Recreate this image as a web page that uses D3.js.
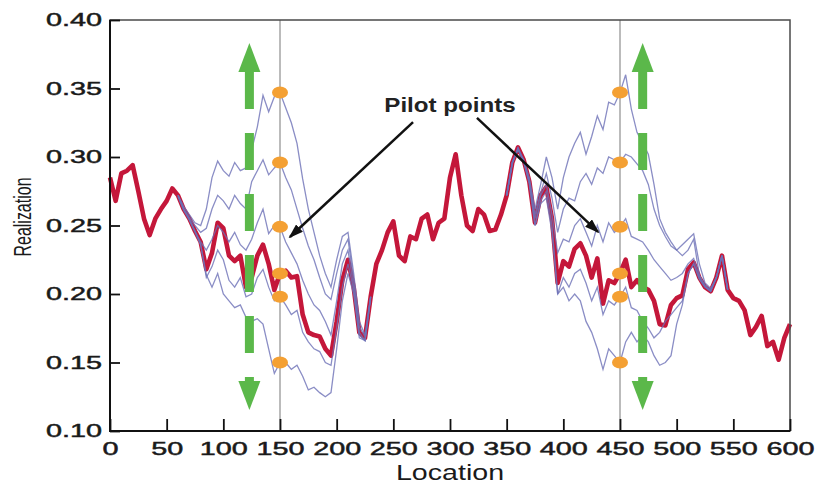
<!DOCTYPE html>
<html>
<head>
<meta charset="utf-8">
<script src="https://cdn.jsdelivr.net/npm/d3@7"></script>
<style>
  body { margin: 0; background: #fff; }
  svg { display: block; font-family: "Liberation Sans", Arial, sans-serif; }
</style>
</head>
<body>
<svg width="817" height="483"></svg>
<script>
// grid step of the realizations (location units)
var step = 5;

// base realization (thick red), location 0..600
var red = [
  .285,.268,.288,.290,.294,.275,.255,.243,.255,.262,
  .268,.277,.272,.262,.255,.246,.238,.218,.230,.252,
  .248,.228,.224,.228,.205,.212,.228,.236,.222,.203,
  .215,.217,.212,.213,.185,.172,.170,.169,.160,.155,
  .180,.210,.225,.205,.172,.168,.198,.222,.232,.245,
  .253,.228,.224,.242,.240,.255,.258,.240,.252,.255,
  .285,.302,.272,.250,.246,.262,.258,.246,.247,.258,
  .272,.296,.307,.298,.282,.252,.272,.278,.255,.208,
  .224,.220,.233,.237,.228,.212,.226,.193,.210,.208,
  .215,.225,.205,.210,.205,.203,.195,.178,.177,.192,
  .197,.199,.218,.223,.212,.205,.202,.212,.228,.203,
  .197,.195,.188,.170,.176,.184,.162,.165,.152,.168,
  .178
];

// perturbed realizations around the first pilot point, location 60..230
var leftStart = 60;
var leftLines = [
  [.272,.264,.258,.252,.250,.262,.285,.297,.290,.286, .296,.290,.292,.305,.322,.345,.333,.344,.347,.336,
   .325,.310,.284,.262,.245,.228,.215,.205,.225,.242, .245,.215,.180,.170,.198],
  [.272,.262,.256,.250,.245,.248,.262,.272,.268,.262, .272,.266,.262,.282,.290,.298,.287,.292,.296,.285,
   .276,.262,.248,.235,.225,.212,.200,.196,.215,.232, .240,.210,.176,.169,.198],
  [.271,.261,.254,.246,.238,.232,.240,.250,.245,.238, .245,.236,.232,.240,.252,.262,.244,.250,.249,.238,
   .230,.222,.210,.200,.192,.188,.180,.170,.195,.222, .232,.205,.172,.166,.198],
  [.272,.262,.255,.246,.236,.212,.220,.232,.225,.210, .205,.212,.198,.200,.212,.218,.205,.195,.198,.192,
   .185,.188,.172,.165,.160,.158,.150,.148,.175,.205, .222,.203,.170,.166,.197],
  [.272,.262,.254,.245,.236,.214,.205,.215,.200,.195, .190,.192,.183,.180,.182,.178,.160,.142,.150,.150,
   .145,.148,.140,.130,.132,.128,.125,.128,.160,.195, .215,.200,.168,.166,.198]
];

// perturbed realizations around the second pilot point, location 350..545
var rightStart = 350;
var rightLines = [
  [.272,.296,.305,.298,.285,.262,.280,.300,.285,.262, .285,.300,.310,.318,.302,.315,.330,.320,.340,.338,
   .347,.360,.335,.318,.310,.302,.280,.255,.245,.238, .232,.228,.232,.240,.214,.206,.203,.212,.228,.203],
  [.272,.296,.306,.296,.282,.258,.274,.288,.270,.245, .262,.270,.268,.282,.288,.280,.292,.288,.300,.298,
   .296,.302,.300,.295,.290,.280,.262,.250,.242,.235, .232,.236,.240,.244,.222,.208,.204,.212,.228,.203],
  [.272,.295,.306,.297,.282,.255,.272,.280,.258,.230, .240,.238,.250,.255,.245,.235,.250,.238,.252,.245,
   .249,.255,.242,.240,.238,.232,.225,.220,.215,.210, .212,.215,.222,.226,.213,.206,.202,.212,.228,.203],
  [.272,.296,.307,.298,.282,.250,.268,.275,.250,.200, .212,.205,.215,.218,.208,.195,.205,.185,.195,.192,
   .198,.205,.190,.188,.180,.175,.168,.172,.180,.185, .190,.195,.215,.222,.211,.205,.202,.212,.228,.203],
  [.272,.296,.306,.297,.280,.250,.266,.270,.245,.200, .205,.195,.200,.195,.180,.172,.160,.145,.160,.155,
   .150,.165,.172,.165,.170,.165,.155,.148,.150,.155, .178,.192,.215,.222,.211,.205,.202,.212,.228,.203]
];

// pilot points
var pilotLocs = [150, 450];
var pilotVals = [0.347, 0.296, 0.249, 0.215, 0.198, 0.150];

// green "perturbation" arrows
var arrowLocs = [123, 470];
var arrowRange = [0.1153, 0.3832];

// annotation arrows: [fromLoc, fromVal, toLoc, toVal]
var pointers = [
  [267.4, 0.3255, 158.8, 0.2416],
  [323.8, 0.3285, 430.6, 0.2453]
];

var xTicks = [0, 50, 100, 150, 200, 250, 300, 350, 400, 450, 500, 550, 600];
var yTicks = [0.10, 0.15, 0.20, 0.25, 0.30, 0.35, 0.40];

var svg = d3.select("svg"),
    margin = {top: 20, right: 27, bottom: 52, left: 110},
    width = +svg.attr("width") - margin.left - margin.right,
    height = +svg.attr("height") - margin.top - margin.bottom;

var x = d3.scaleLinear().domain([0, 600]).range([0, width]);
var y = d3.scaleLinear().domain([0.10, 0.40]).range([height, 0]);

svg.append("defs").append("marker")
    .attr("id", "head")
    .attr("markerUnits", "userSpaceOnUse")
    .attr("markerWidth", 15).attr("markerHeight", 10)
    .attr("refX", 13).attr("refY", 5)
    .attr("orient", "auto")
  .append("path")
    .attr("d", "M0,0 L15,5 L0,10 Z")
    .attr("fill", "#111");

var g = svg.append("g").attr("transform", "translate(" + margin.left + "," + margin.top + ")");

// vertical guides through the pilot points
g.selectAll(".guide").data(pilotLocs).enter().append("line")
    .attr("x1", d => x(d)).attr("x2", d => x(d))
    .attr("y1", 0).attr("y2", height)
    .attr("stroke", "#8e8e8e").attr("stroke-width", 1.2);

var line = d3.line()
    .x(d => x(d[0]))
    .y(d => y(d[1]));

function toPoints(vals, start) {
  return vals.map((v, i) => [start + i * step, v]);
}

// thick red realization
g.append("path")
    .datum(toPoints(red, 0))
    .attr("d", line)
    .attr("fill", "none")
    .attr("stroke", "#c4173a")
    .attr("stroke-width", 4.6)
    .attr("stroke-linejoin", "round");

// thin blue realizations
var blue = leftLines.map(v => toPoints(v, leftStart))
    .concat(rightLines.map(v => toPoints(v, rightStart)));
g.selectAll(".blue").data(blue).enter().append("path")
    .attr("d", line)
    .attr("fill", "none")
    .attr("stroke", "#6d70b6")
    .attr("stroke-opacity", 0.8)
    .attr("stroke-width", 1.3);

// green dashed double arrows
var green = "#5bb84a";
arrowLocs.forEach(function(loc) {
  var ax = x(loc), yt = y(arrowRange[1]), yb = y(arrowRange[0]), hl = 29, hw = 11;
  g.append("line")
      .attr("x1", ax).attr("x2", ax)
      .attr("y1", yt + hl).attr("y2", yb - hl)
      .attr("stroke", green).attr("stroke-width", 9)
      .attr("stroke-dasharray", "37,24");
  g.append("path")
      .attr("d", "M" + ax + "," + yt + "L" + (ax - hw) + "," + (yt + hl) + "L" + (ax + hw) + "," + (yt + hl) + "Z")
      .attr("fill", green);
  g.append("path")
      .attr("d", "M" + ax + "," + yb + "L" + (ax - hw) + "," + (yb - hl) + "L" + (ax + hw) + "," + (yb - hl) + "Z")
      .attr("fill", green);
});

// orange pilot points
var dots = [];
pilotLocs.forEach(l => pilotVals.forEach(v => dots.push([l, v])));
g.selectAll(".dot").data(dots).enter().append("ellipse")
    .attr("cx", d => x(d[0])).attr("cy", d => y(d[1]))
    .attr("rx", 8).attr("ry", 6)
    .attr("fill", "#f4a033");

// annotation
g.selectAll(".ptr").data(pointers).enter().append("line")
    .attr("x1", d => x(d[0])).attr("y1", d => y(d[1]))
    .attr("x2", d => x(d[2])).attr("y2", d => y(d[3]))
    .attr("stroke", "#111").attr("stroke-width", 2.5)
    .attr("marker-end", "url(#head)");

g.append("text")
    .attr("transform", "translate(" + x(300) + "," + (y(0.3327)) + ") scale(1.15,1)")
    .attr("text-anchor", "middle")
    .attr("font-size", 21).attr("font-weight", "bold")
    .attr("fill", "#222")
    .text("Pilot points");

// frame
g.append("rect")
    .attr("width", width).attr("height", height)
    .attr("fill", "none").attr("stroke", "#4a4a4a").attr("stroke-width", 1.5);
g.append("path")
    .attr("d", "M0,0V" + height + "H" + width)
    .attr("fill", "none").attr("stroke", "#111").attr("stroke-width", 2);

// axes
var xAxis = g.append("g")
    .attr("transform", "translate(0," + height + ")")
    .call(d3.axisBottom(x).tickValues(xTicks).tickSizeInner(-12).tickSizeOuter(0).tickPadding(11));
var yAxis = g.append("g")
    .call(d3.axisLeft(y).tickValues(yTicks).tickFormat(d3.format(".2f")).tickSizeInner(-10).tickSizeOuter(0).tickPadding(5));

[xAxis, yAxis].forEach(function(a) {
  a.select(".domain").remove();
  a.selectAll(".tick line").attr("stroke", "#111").attr("stroke-width", 1.8);
  a.selectAll(".tick text")
      .attr("font-size", 18)
      .attr("font-family", "'Liberation Sans', Arial, sans-serif")
      .attr("fill", "#1a1a1a")
      .attr("stroke", "#1a1a1a").attr("stroke-width", 0.45)
      .attr("transform", "scale(1.6,1)");
});

// axis titles
svg.append("text")
    .attr("transform", "translate(" + (margin.left + width / 2) + ",480) scale(1.3,1)")
    .attr("text-anchor", "middle")
    .attr("font-size", 22)
    .attr("fill", "#1a1a1a")
    .text("Location");

svg.append("text")
    .attr("transform", "translate(23,217) scale(1.5,1) rotate(-90)")
    .attr("text-anchor", "middle")
    .attr("dy", "0.35em")
    .attr("font-size", 16)
    .attr("fill", "#1a1a1a")
    .text("Realization");
</script>
</body>
</html>
